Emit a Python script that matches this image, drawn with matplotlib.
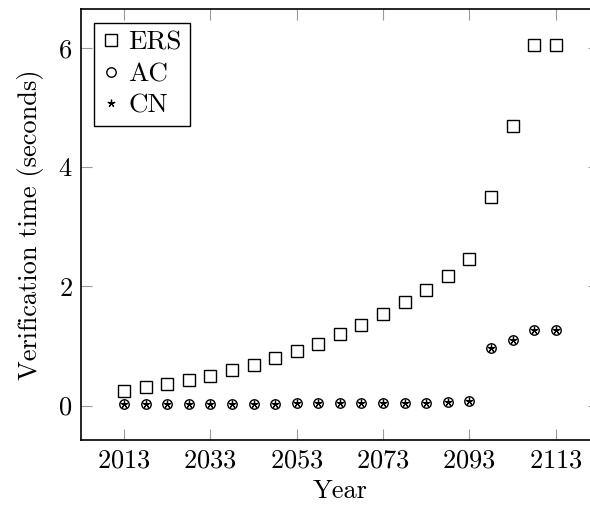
import numpy as np
import matplotlib.pyplot as plt

plt.rcParams['font.family'] = 'serif'
plt.rcParams['font.serif'] = ['cmr10']
plt.rcParams['axes.formatter.use_mathtext'] = True

years = np.arange(2013, 2114, 5)

ers = [0.25, 0.31, 0.36, 0.43, 0.50, 0.59, 0.68, 0.79, 0.91, 1.04, 1.20,
       1.35, 1.53, 1.73, 1.94, 2.18, 2.46, 3.50, 4.69, 6.05, 6.05]
ac = [0.02, 0.02, 0.02, 0.03, 0.03, 0.03, 0.03, 0.03, 0.04, 0.04, 0.04,
      0.04, 0.05, 0.05, 0.05, 0.06, 0.07, 0.96, 1.10, 1.27, 1.27]
cn = ac

fig = plt.figure(figsize=(5.9, 5.07), dpi=100)
ax = fig.add_axes([0.137, 0.132, 0.878, 0.850])

ax.plot(years, ers, 's', ms=8, mfc='none', mec='black', mew=1.0, label='ERS')
ax.plot(years, ac, 'o', ms=6.8, mfc='none', mec='black', mew=1.0, label='AC')
ax.plot(years, cn, marker=(5, 2, 0), ls='none', ms=5.5, mec='black', mew=0.9, label='CN')

ax.set_xlim(2003, 2123)
ax.set_ylim(-0.58, 6.65)
ax.set_xticks([2013, 2033, 2053, 2073, 2093, 2113])
ax.set_yticks([0, 2, 4, 6])
ax.tick_params(direction='in', length=8, width=0.8, color='#999999',
               top=True, right=True, labelsize=19, pad=6)
for s in ax.spines.values():
    s.set_linewidth(1.2)
# the figure is cut off before the right frame line
ax.spines['right'].set_visible(False)

ax.set_xlabel('Year', fontsize=19, labelpad=5)
ax.set_ylabel('Verification time (seconds)', fontsize=19, labelpad=10)

leg = ax.legend(loc='upper left', fontsize=19.5, handlelength=0.6,
                handletextpad=0.35, borderpad=0.3, labelspacing=0.28,
                fancybox=False, edgecolor='black', framealpha=1,
                borderaxespad=0.5)
leg.get_frame().set_linewidth(1.0)

fig.savefig('out.png', dpi=100)
